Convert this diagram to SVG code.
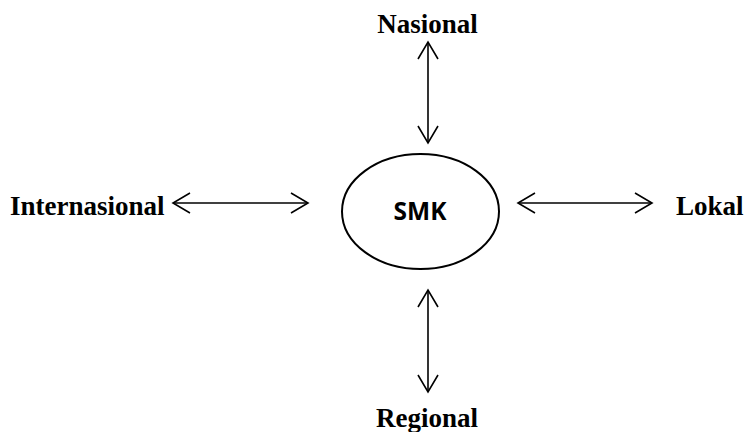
<svg xmlns="http://www.w3.org/2000/svg" width="744" height="432" viewBox="0 0 744 432">
<defs>
<style>
.lbl{font-family:"Liberation Serif","Times New Roman",serif;font-weight:bold;font-size:27px;fill:#000}
.conn{stroke:#000;stroke-width:1.6;fill:none;marker-start:url(#arr);marker-end:url(#arr)}
</style>
<marker id="arr" viewBox="-20 -12 22 24" refX="0" refY="0" markerWidth="22" markerHeight="24" markerUnits="userSpaceOnUse" orient="auto-start-reverse">
<path d="M-17,-10 L0,0 L-17,10" fill="none" stroke="#000" stroke-width="1.6"/>
</marker>
</defs>
<rect width="744" height="432" fill="#fff"/>
<g id="connectors">
<line class="conn" x1="428" y1="42" x2="428" y2="143"/>
<line class="conn" x1="428" y1="290" x2="428" y2="392"/>
<line class="conn" x1="173" y1="203" x2="308" y2="203"/>
<line class="conn" x1="518" y1="203" x2="652" y2="203"/>
</g>
<g id="smk">
<ellipse cx="420.5" cy="211.5" rx="78.5" ry="57.5" fill="#fff" stroke="#000" stroke-width="2"/>
<text x="420" y="220" text-anchor="middle" font-family="'Open Sans','DejaVu Sans',sans-serif" font-weight="bold" font-size="24.5">SMK</text>
</g>
<g id="nasional"><text class="lbl" x="427.5" y="33" text-anchor="middle">Nasional</text></g>
<g id="regional"><text class="lbl" x="427" y="427" text-anchor="middle">Regional</text></g>
<g id="internasional"><text class="lbl" x="10" y="215">Internasional</text></g>
<g id="lokal"><text class="lbl" x="676" y="215">Lokal</text></g>
</svg>
